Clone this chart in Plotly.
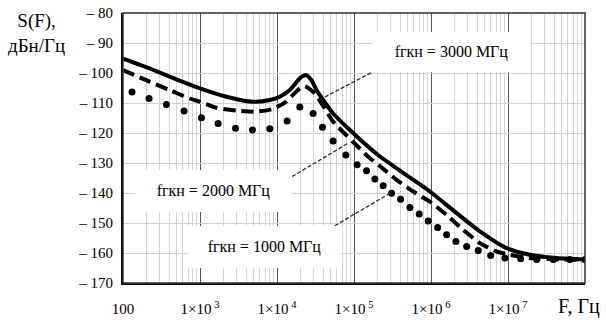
import numpy as np
import plotly.graph_objects as go

# Phase-noise spectra S(F) for three reference frequencies
freq_3000 = [100, 222, 494, 1000, 2208, 4887, 8054, 10870, 14660, 19770, 23660,
             28050, 32600, 39700, 53580, 88310, 199500, 398100, 968300,
             2.153e6, 4.325e6, 9.594e6, 1.928e7, 4.285e7, 1e8]
s_3000 = [-95.2, -98.5, -102.1, -105.1, -107.9, -109.6, -109.0, -107.9, -105.7, -101.8, -100.7,
          -102.4, -105.7, -109.0, -113.5, -119.0, -127.1, -132.6, -139.5,
          -146.7, -152.8, -158.4, -160.6, -161.7, -162.2]

freq_2000 = [100, 222, 405, 736, 1000, 1637, 3119, 5140, 8492, 12620, 19770, 22960,
             29440, 37840, 53580, 97500, 152800, 216800, 357300, 587500, 968300,
             1.596e6, 2.624e6, 4.325e6, 7.129e6, 1.059e7, 1.928e7, 5.224e7, 1e8]
s_2000 = [-99.0, -102.9, -105.7, -108.5, -109.6, -111.6, -112.6, -112.9, -112.1, -109.9, -105.1, -104.4,
          -106.3, -110.1, -116.2, -123.0, -127.9, -131.0, -135.6, -139.5, -142.9,
          -147.3, -152.3, -156.7, -159.5, -160.6, -161.7, -162.2, -162.2]

freq_1000 = [131, 218, 366, 621, 1045, 1718, 2891, 4809, 8054, 13520, 19770, 29440,
             38990, 53580, 78340, 109900, 145500, 186600, 239300, 307600, 402700,
             532100, 703100, 920400, 1.219e6, 1.596e6, 2.109e6, 2.904e6, 4.102e6,
             5.957e6, 9.12e6, 1.459e7, 2.355e7, 3.873e7, 6.383e7, 1e8]
s_1000 = [-106.3, -108.5, -110.5, -112.7, -114.9, -116.8, -118.4, -119.0, -118.6, -116.0, -111.3, -113.5,
          -118.1, -122.7, -127.3, -130.6, -132.6, -135.3, -137.6, -140.1, -142.1,
          -144.8, -147.0, -149.3, -151.5, -153.9, -156.2, -157.8, -159.2,
          -160.8, -161.7, -161.9, -162.2, -162.2, -162.2, -162.2]

x_ticks = [100, 1e3, 1e4, 1e5, 1e6, 1e7]
x_labels = ["100"] + ["1×10<sup> %d</sup>" % p for p in range(3, 8)]
x_minor = [m * 10 ** p for p in range(2, 8) for m in range(2, 10)]
y_ticks = list(range(-170, -79, 10))
y_labels = ["\u2013 %d" % abs(v) for v in y_ticks]

labels = ["fгкн = 3000 МГц", "fгкн = 2000 МГц", "fгкн = 1000 МГц"]
label_pos = [(1.84e6, -93.1, 157, 40), (1479, -139.2, 157, 42), (6934, -158.1, 153, 42)]
leaders = [((41780, -108.0), (173000, -99.7)),
           ((15710, -134.5), (83950, -123.4)),
           ((56360, -150.9), (292400, -140.1))]

FONT = "Liberation Serif, Times New Roman, serif"

fig = go.Figure()
fig.add_trace(go.Scatter(x=freq_3000, y=s_3000, mode="lines",
                         line=dict(color="black", width=4, shape="spline", smoothing=0.6)))
fig.add_trace(go.Scatter(x=freq_2000, y=s_2000, mode="lines",
                         line=dict(color="black", width=4, dash="12px,6px", shape="spline", smoothing=0.6)))
fig.add_trace(go.Scatter(x=freq_1000, y=s_1000, mode="markers",
                         marker=dict(color="black", size=7)))

for (p0, p1) in leaders:
    fig.add_shape(type="line", xref="x", yref="y", x0=p0[0], y0=p0[1], x1=p1[0], y1=p1[1],
                  line=dict(color="#222", width=1.2, dash="4px,2px"), layer="above")

for text, (fx, fy, w, h) in zip(labels, label_pos):
    fig.add_annotation(x=np.log10(fx), y=fy, xref="x", yref="y", text=text, showarrow=False,
                       bgcolor="white", width=w, height=h, borderpad=0, borderwidth=0,
                       font=dict(family=FONT, size=16, color="black"))

# plot frame
fig.add_shape(type="rect", xref="paper", yref="paper", x0=0, y0=0, x1=1, y1=1,
              line=dict(color="#333", width=1.5), layer="above")

fig.add_annotation(x=-0.188, y=0.927, xref="paper", yref="paper", text="S(F),<br>дБн/Гц",
                   showarrow=False, xanchor="center", yanchor="middle",
                   font=dict(family=FONT, size=19, color="black"))
fig.add_annotation(x=0.987, y=-0.088, xref="paper", yref="paper", text="F, Гц",
                   showarrow=False, xanchor="center", yanchor="middle",
                   font=dict(family=FONT, size=20, color="black"))

fig.update_xaxes(type="log", range=[2, 8], tickvals=x_ticks, ticktext=x_labels,
                 showgrid=True, gridcolor="#555", gridwidth=1,
                 minor=dict(tickmode="array", tickvals=x_minor, showgrid=True,
                            gridcolor="#d4d4d4", gridwidth=1, ticks=""),
                 showline=True, linecolor="black", linewidth=2, ticks="",
                 ticklabelstandoff=11, zeroline=False, automargin=False,
                 tickfont=dict(family=FONT, size=15, color="black"))
fig.update_yaxes(range=[-170, -80], tickvals=y_ticks, ticktext=y_labels,
                 showgrid=True, gridcolor="#d4d4d4", gridwidth=1,
                 showline=True, linecolor="black", linewidth=2, ticks="",
                 ticklabelstandoff=5, zeroline=False, automargin=False,
                 tickfont=dict(family=FONT, size=15, color="black"))

fig.update_layout(width=606, height=320, margin=dict(l=123, r=21, t=13, b=37),
                  plot_bgcolor="white", paper_bgcolor="white", showlegend=False)

fig.write_html("out.html")
